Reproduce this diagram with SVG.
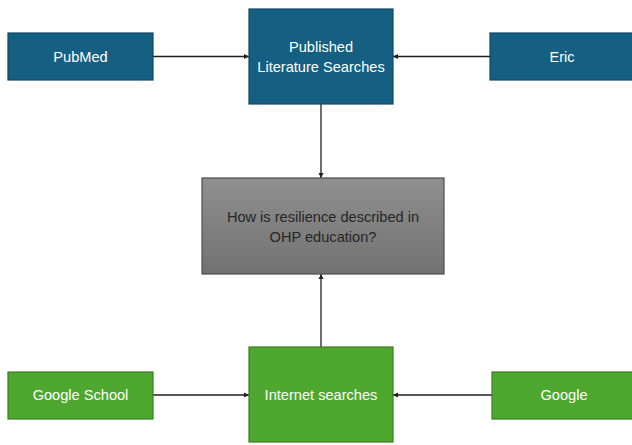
<svg xmlns="http://www.w3.org/2000/svg" width="632" height="445" viewBox="0 0 632 445">
  <style>
    .blue { fill: #156082; stroke: #0f4761; stroke-width: 1.2; }
    .green { fill: #4ea72e; stroke: #3a7d22; stroke-width: 1.2; }
    .gray { fill: url(#grayFill); stroke: #4d4d4d; stroke-width: 1.2; }
    .lbl { font-family: "Liberation Sans", Arial, sans-serif; font-size: 14.6px; text-anchor: middle; }
    .light { fill: #ffffff; }
    .dark { fill: #262626; }
    .conn { stroke: #1f1f1f; stroke-width: 1.3; fill: none; marker-end: url(#arrow); }
  </style>
  <defs>
    <linearGradient id="grayFill" x1="0" y1="0" x2="0" y2="1">
      <stop offset="0" stop-color="#8f8f8f"/>
      <stop offset="1" stop-color="#727272"/>
    </linearGradient>
    <marker id="arrow" viewBox="0 0 10 10" refX="10" refY="5" markerWidth="4" markerHeight="4" orient="auto" markerUnits="strokeWidth">
      <path d="M0,0 L10,5 L0,10 z" fill="#1f1f1f"/>
    </marker>
  </defs>

  <rect width="632" height="445" fill="#ffffff"/>

  <g id="connectors">
    <line class="conn" x1="153" y1="56.5" x2="249" y2="56.5"/>
    <line class="conn" x1="490" y1="56.5" x2="393" y2="56.5"/>
    <line class="conn" x1="321" y1="104" x2="321" y2="178"/>
    <line class="conn" x1="321" y1="347" x2="321" y2="274"/>
    <line class="conn" x1="153" y1="395" x2="249" y2="395"/>
    <line class="conn" x1="492" y1="395" x2="393" y2="395"/>
  </g>

  <g id="pubmed">
    <rect class="blue" x="8" y="33" width="145" height="47"/>
    <text class="lbl light" x="80.5" y="61.5">PubMed</text>
  </g>

  <g id="published">
    <rect class="blue" x="249" y="9" width="144" height="95"/>
    <text class="lbl light" x="321" y="52">Published</text>
    <text class="lbl light" x="321" y="71.5">Literature Searches</text>
  </g>

  <g id="eric">
    <rect class="blue" x="490" y="33" width="145" height="47"/>
    <text class="lbl light" x="562" y="61.5">Eric</text>
  </g>

  <g id="question">
    <rect class="gray" x="202" y="178" width="242" height="96"/>
    <text class="lbl dark" x="323" y="222">How is resilience described in</text>
    <text class="lbl dark" x="323" y="241.5">OHP education?</text>
  </g>

  <g id="google-school">
    <rect class="green" x="8" y="372" width="145" height="47"/>
    <text class="lbl light" x="80.5" y="400">Google School</text>
  </g>

  <g id="internet">
    <rect class="green" x="249" y="347" width="144" height="95"/>
    <text class="lbl light" x="321" y="400">Internet searches</text>
  </g>

  <g id="google">
    <rect class="green" x="492" y="372" width="145" height="47"/>
    <text class="lbl light" x="564" y="400">Google</text>
  </g>
</svg>
